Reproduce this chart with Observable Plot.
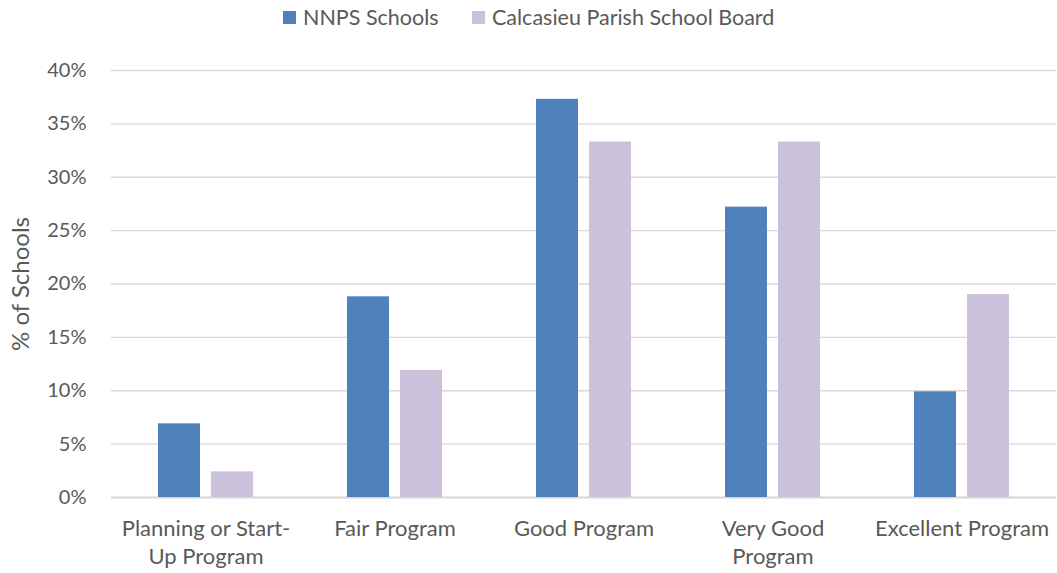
<!DOCTYPE html>
<html>
<head>
<meta charset="utf-8">
<script src="https://cdn.jsdelivr.net/npm/d3@7"></script>
<script src="https://cdn.jsdelivr.net/npm/@observablehq/plot@0.6"></script>
<style>
  html, body { margin: 0; padding: 0; background: #fff; }
  body { width: 1057px; height: 573px; overflow: hidden; font-family: Lato, sans-serif; }
  #legend { height: 35px; position: relative; font-size: 21.5px; color: #595959; }
  .item { position: absolute; top: 3px; display: flex; align-items: center; height: 28px; white-space: nowrap; }
  .sw { width: 13px; height: 13px; margin-right: 7px; }
</style>
</head>
<body>
<div id="legend"></div>
<div id="chart"></div>
<script>
const categories = ["Planning or Start-Up Program", "Fair Program", "Good Program", "Very Good Program", "Excellent Program"];
const categoryLabels = ["Planning or Start-\nUp Program", "Fair Program", "Good Program", "Very Good\nProgram", "Excellent Program"];
const series = ["NNPS Schools", "Calcasieu Parish School Board"];
const nnpsValues = [0.069, 0.188, 0.373, 0.272, 0.099];
const calcasieuValues = [0.024, 0.119, 0.333, 0.333, 0.190];
const colors = ["#4f81bd", "#ccc1da"];
const yTicks = [0, 0.05, 0.10, 0.15, 0.20, 0.25, 0.30, 0.35, 0.40];

const data = [];
categories.forEach((c, i) => {
  data.push({category: c, series: series[0], value: nnpsValues[i]});
  data.push({category: c, series: series[1], value: calcasieuValues[i]});
});

// legend
const legend = document.getElementById("legend");
const legendX = [283, 472];
series.forEach((s, i) => {
  const d = document.createElement("div");
  d.className = "item";
  d.style.left = legendX[i] + "px";
  d.innerHTML = `<span class="sw" style="background:${colors[i]}"></span><span>${s}</span>`;
  legend.appendChild(d);
});

const labelMap = new Map(categories.map((c, i) => [c, categoryLabels[i]]));

const chart = Plot.plot({
  width: 1057,
  height: 538,
  marginTop: 35,
  marginBottom: 76,
  marginLeft: 110,
  marginRight: 0,
  style: {fontFamily: "Lato, sans-serif", fontSize: "20px", color: "#595959", background: "#fff"},
  fx: {domain: categories, padding: 0, label: null, axis: null},
  x: {domain: series, paddingInner: 0.204, paddingOuter: 0.856, axis: null},
  y: {domain: [0, 0.4], label: null, axis: null},
  color: {domain: series, range: colors},
  marks: [
    Plot.gridY(yTicks, {stroke: "#d9d9d9", strokeOpacity: 1, strokeWidth: 1.3}),
    Plot.ruleY([0], {stroke: "#d9d9d9", strokeWidth: 2}),
    Plot.barY(data, {fx: "category", x: "series", y: "value", fill: "series"}),
    Plot.axisY(yTicks, {tickFormat: d3.format(".0%"), tickSize: 0, tickPadding: 25, fill: "#595959", fontSize: 20, label: null}),
    Plot.axisY(yTicks, {tickFormat: null, text: null, tickSize: 0, fill: "#595959", fontSize: 24,
      label: "% of Schools", labelAnchor: "center", labelArrow: "none", labelOffset: 100}),
    Plot.axisFx({anchor: "bottom", tickFormat: d => labelMap.get(d), tickSize: 0, tickPadding: 18, fill: "#595959", fontSize: 22, lineHeight: 1.3, label: null})
  ]
});
document.getElementById("chart").appendChild(chart);
</script>
</body>
</html>
